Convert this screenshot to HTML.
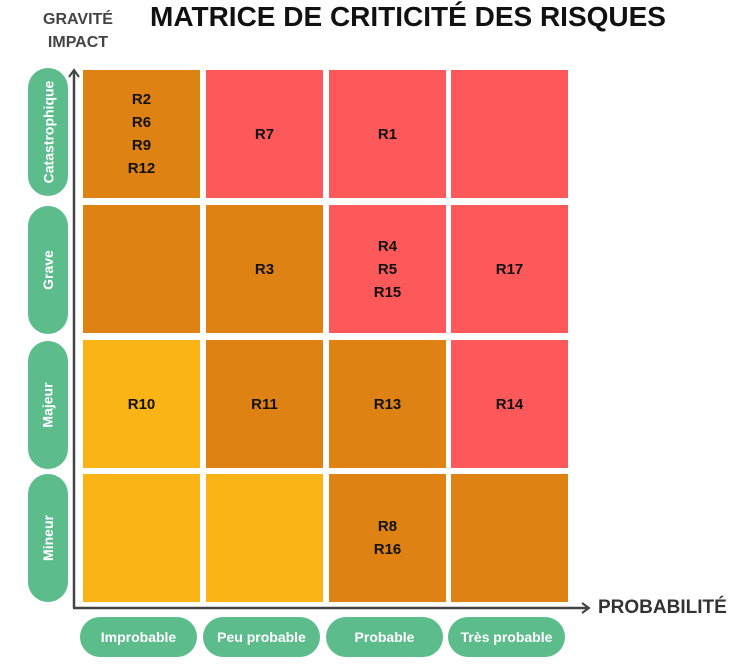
<!DOCTYPE html>
<html><head><meta charset="utf-8"><style>
body{margin:0;width:751px;height:665px;background:#fff;font-family:"Liberation Sans",sans-serif;position:relative;overflow:hidden}
.a{position:absolute}
.c{position:absolute;width:117px;height:128px;display:flex;align-items:center;justify-content:center;text-align:center;font-weight:bold;font-size:15px;line-height:23px;color:#111}
.o{background:#DE8213}.r{background:#FE595A}.y{background:#FAB416}
.yp{position:absolute;left:28px;width:40px;height:128px;border-radius:20px;background:#5DBC8B;color:#fff;font-weight:bold;font-size:14px;display:flex;align-items:center;justify-content:center}
.yp span{transform:rotate(-90deg);white-space:nowrap}
.xp{position:absolute;top:617px;height:40px;width:117px;border-radius:20px;background:#5DBC8B;color:#fff;font-weight:bold;font-size:14px;display:flex;align-items:center;justify-content:center;white-space:nowrap}
</style></head><body>
<div class="a" style="left:30px;top:8px;width:96px;text-align:center;font-weight:bold;font-size:16px;line-height:23px;color:#444">GRAVITÉ<br>IMPACT</div>
<div class="a" style="left:108px;top:1px;width:600px;text-align:center;font-weight:900;font-size:28px;color:#111;white-space:nowrap">MATRICE DE CRITICITÉ DES RISQUES</div>

<div class="c o" style="left:83px;top:70px">R2<br>R6<br>R9<br>R12</div>
<div class="c r" style="left:206px;top:70px">R7</div>
<div class="c r" style="left:329px;top:70px">R1</div>
<div class="c r" style="left:451px;top:70px"></div>
<div class="c o" style="left:83px;top:205px"></div>
<div class="c o" style="left:206px;top:205px">R3</div>
<div class="c r" style="left:329px;top:205px">R4<br>R5<br>R15</div>
<div class="c r" style="left:451px;top:205px">R17</div>
<div class="c y" style="left:83px;top:340px">R10</div>
<div class="c o" style="left:206px;top:340px">R11</div>
<div class="c o" style="left:329px;top:340px">R13</div>
<div class="c r" style="left:451px;top:340px">R14</div>
<div class="c y" style="left:83px;top:474px"></div>
<div class="c y" style="left:206px;top:474px"></div>
<div class="c o" style="left:329px;top:474px">R8<br>R16</div>
<div class="c o" style="left:451px;top:474px"></div>

<div class="yp" style="top:68px"><span>Catastrophique</span></div>
<div class="yp" style="top:206px"><span>Grave</span></div>
<div class="yp" style="top:341px"><span>Majeur</span></div>
<div class="yp" style="top:474px"><span>Mineur</span></div>

<svg class="a" style="left:0;top:0" width="751" height="665">
<line x1="74" y1="608" x2="74" y2="72" stroke="#444" stroke-width="2.5"/>
<polyline points="69,77 74,70 79,77" fill="none" stroke="#444" stroke-width="2"/>
<line x1="73" y1="608" x2="588" y2="608" stroke="#444" stroke-width="2.5"/>
<polyline points="582,603 589,608 582,613" fill="none" stroke="#444" stroke-width="2"/>
</svg>
<div class="a" style="left:598px;top:597px;font-weight:bold;font-size:19px;color:#333">PROBABILITÉ</div>

<div class="xp" style="left:80px">Improbable</div>
<div class="xp" style="left:203px">Peu probable</div>
<div class="xp" style="left:326px">Probable</div>
<div class="xp" style="left:448px">Très probable</div>
</body></html>
